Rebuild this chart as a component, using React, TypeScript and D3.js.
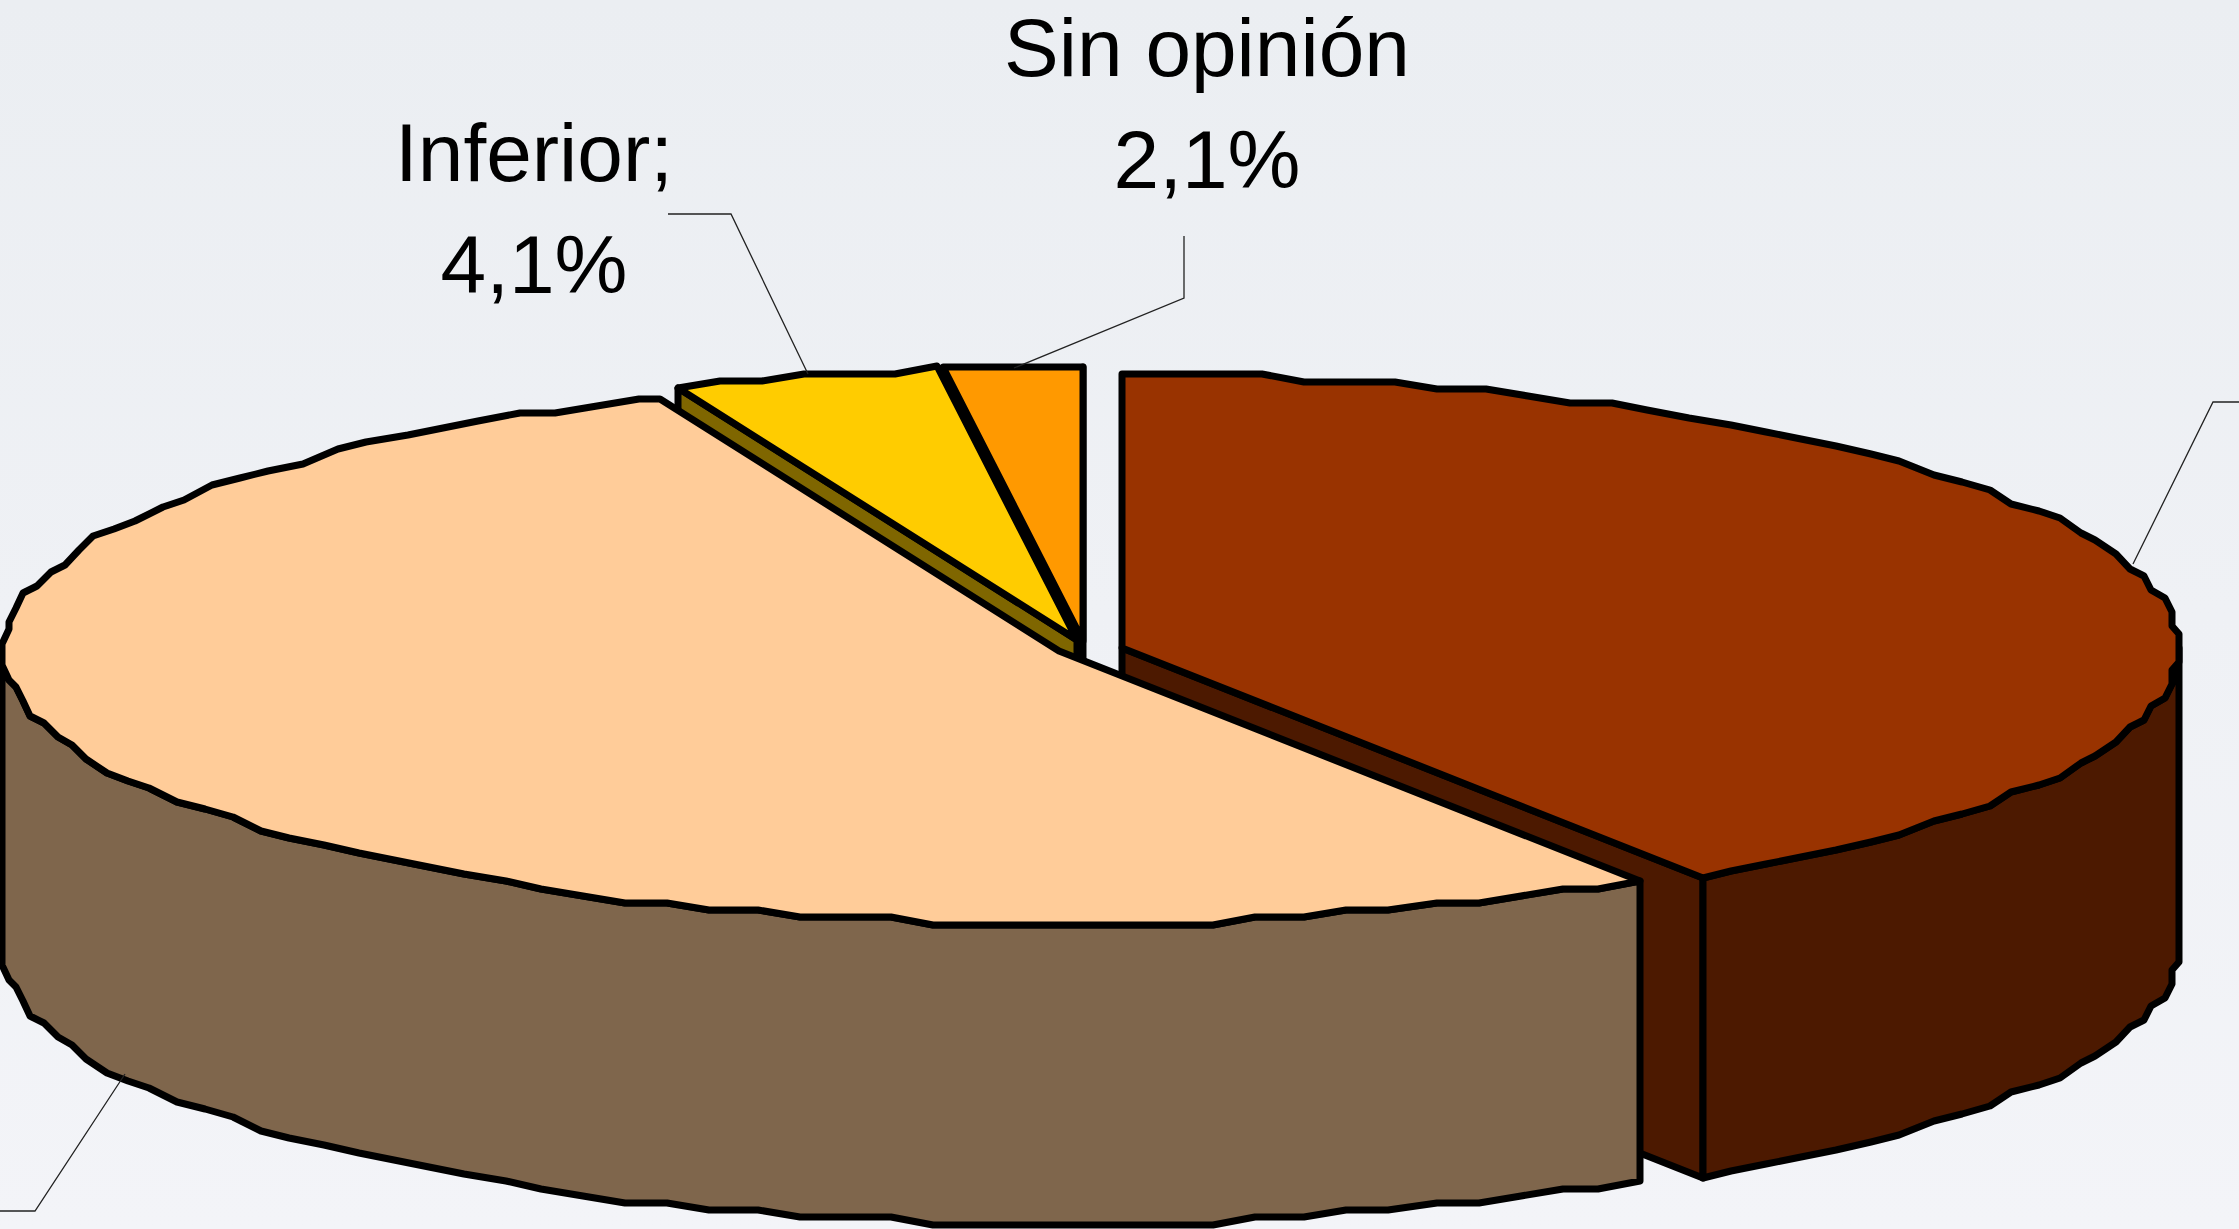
import React from "react";
import * as d3 from "d3";

const width = 2239;
const height = 1229;

// slice values, clockwise from 12 o'clock
const categories = ["Superior", "Igual", "Inferior", "Sin opinión"];
const values = [40.75, 53.05, 4.1, 2.1];
const topColors = ["#993300", "#ffcc99", "#ffcc00", "#ff9900"];
const sideColors = ["#4c1900", "#7f664c", "#7f6600", "#7f4c00"];

// exploded slices: where each slice's apex ends up
const apexX = [1122, 1059, 1077, 1083];
const apexY = [648, 651, 640, 641];

const radiusX = 1056;
const radiusY = 273;
const depth = 300;
const stepDeg = 2.5;
const gridX = 7;
const gridY = 7.2;
const stroke = 7;

const labelLines = [
  { lines: ["Inferior;", "4,1%"], x: 534, y: [181, 293] },
  { lines: ["Sin opinión", "2,1%"], x: 1207, y: [76, 188] },
];

const leaders = [
  [[668, 214], [731, 214], [808, 374]],
  [[1184, 236], [1184, 298], [1014, 368]],
  [[2133, 564], [2213, 402], [2239, 402]],
  [[125, 1074], [35, 1211], [0, 1211]],
];

const xScale = d3.scaleLinear().domain([-1, 1]).range([-radiusX, radiusX]);
const yScale = d3.scaleLinear().domain([-1, 1]).range([radiusY, -radiusY]);
const path = d3.line();
const leaderPath = d3.line();

const pie = d3.pie<number>().sort(null).value((d) => d);
const slices = pie(values);

// old chart exports snap the rim onto a coarse grid, which gives the stepped outline
const rimPoint = (i: number, a: number): [number, number] => {
  const px = xScale(Math.sin(a));
  const py = yScale(Math.cos(a));
  return [
    Math.round(apexX[i] + Math.round(px / gridX) * gridX),
    Math.round(apexY[i] + Math.round(py / gridY) * gridY),
  ];
};

const rim = (i: number, a0: number, a1: number): [number, number][] => {
  const step = (stepDeg * Math.PI) / 180;
  const angles = d3.range(a0, a1, step).concat([a1]);
  return angles.map((a) => rimPoint(i, a));
};

const drop = (pts: [number, number][]): [number, number][] =>
  pts.map(([x, y]) => [x, y + depth]);

const wall = (i: number, a0: number, a1: number) => {
  const from = Math.max(a0, Math.PI / 2);
  const to = Math.min(a1, (3 * Math.PI) / 2);
  if (from >= to) return null;
  const pts = rim(i, from, to);
  return path([...pts, ...drop(pts).reverse()]) + "Z";
};

const cutFace = (i: number, a: number) => {
  const pts: [number, number][] = [[apexX[i], apexY[i]], rimPoint(i, a)];
  return path([...pts, ...drop(pts).reverse()]) + "Z";
};

const topFace = (i: number, a0: number, a1: number) =>
  path([[apexX[i], apexY[i]], ...rim(i, a0, a1)]) + "Z";

// back to front
const drawOrder = [3, 2, 0, 1];

const Slice = ({ i }: { i: number }) => {
  const s = slices[i];
  const outer = wall(i, s.startAngle, s.endAngle);
  const common = {
    stroke: "#000",
    strokeWidth: stroke,
    strokeLinejoin: "round" as const,
  };
  return (
    <g data-name={categories[i]}>
      {i === 0 && <path d={cutFace(i, s.endAngle)} fill={sideColors[i]} {...common} />}
      {i === 2 && <path d={cutFace(i, s.startAngle)} fill={sideColors[i]} {...common} />}
      {i === 3 && <path d={cutFace(i, s.endAngle)} fill={sideColors[i]} {...common} />}
      {outer && <path d={outer} fill={sideColors[i]} {...common} />}
      <path d={topFace(i, s.startAngle, s.endAngle)} fill={topColors[i]} {...common} />
    </g>
  );
};

export default function App() {
  return (
    <svg
      width={width}
      height={height}
      style={{ position: "absolute", left: 0, top: 0, display: "block" }}
    >
      <defs>
        <linearGradient id="bg" x1="0" y1="0" x2="0" y2="1">
          <stop offset="0" stopColor="#ebeef2" />
          <stop offset="1" stopColor="#f3f4f8" />
        </linearGradient>
      </defs>
      <rect width={width} height={height} fill="url(#bg)" />
      {drawOrder.map((i) => (
        <Slice key={i} i={i} />
      ))}
      {leaders.map((l, k) => (
        <path
          key={k}
          d={leaderPath(l as [number, number][]) || ""}
          fill="none"
          stroke="#222"
          strokeWidth={1.3}
        />
      ))}
      {labelLines.map((lab) =>
        lab.lines.map((t, k) => (
          <text
            key={t}
            x={lab.x}
            y={lab.y[k]}
            textAnchor="middle"
            fontFamily="'Liberation Sans', Arial, sans-serif"
            fontSize={82}
            fill="#000"
          >
            {t}
          </text>
        ))
      )}
    </svg>
  );
}
